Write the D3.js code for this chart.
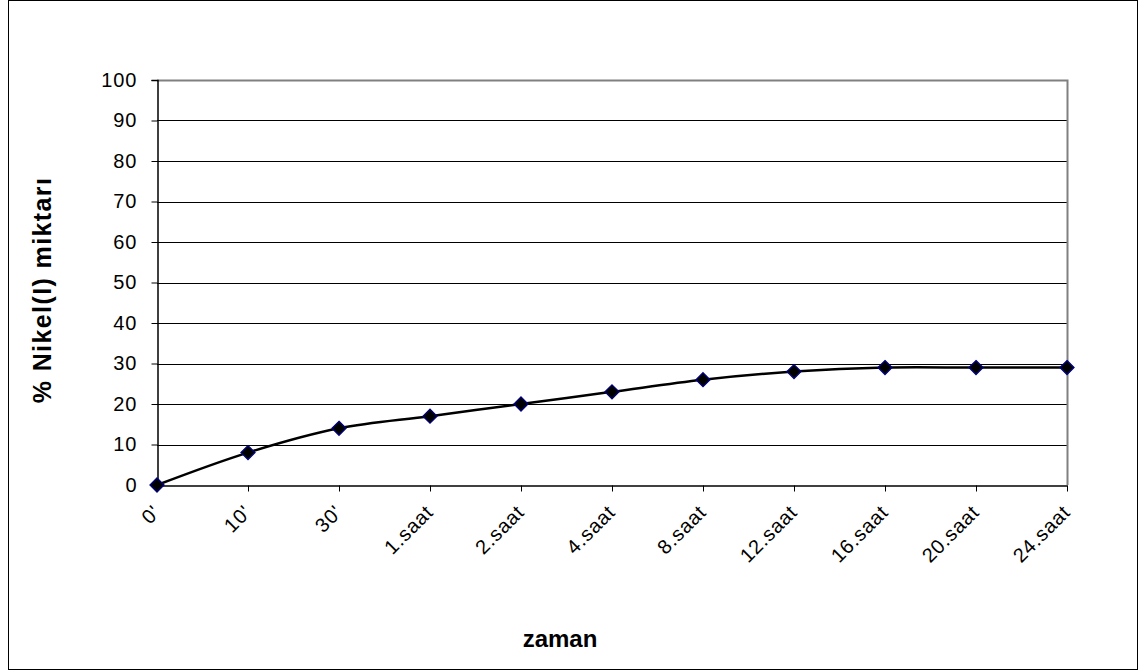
<!DOCTYPE html>
<html><head><meta charset="utf-8">
<script src="https://cdn.jsdelivr.net/npm/d3@7"></script>
<style>body{margin:0;background:#fff}svg{display:block}text{font-family:Arial,"Liberation Sans",sans-serif}</style>
</head><body><svg id="c" width="1144" height="672"></svg>
<script>
const categories = ["0'", "10'", "30'", "1.saat", "2.saat", "4.saat", "8.saat", "12.saat", "16.saat", "20.saat", "24.saat"];
const values = [0, 8, 14, 17, 20, 23, 26, 28, 29, 29, 29];
const yTicks = [0, 10, 20, 30, 40, 50, 60, 70, 80, 90, 100];
const yTitle = "% Nikel(I) miktarı";
const xTitle = "zaman";

const FF = "Arial, 'Liberation Sans', sans-serif";
const svg = d3.select("#c");
svg.append("rect").attr("x", 8.5).attr("y", 0.5).attr("width", 1129).attr("height", 669)
  .attr("fill", "#fff").attr("stroke", "#000").attr("stroke-width", 1);

const L = 157, R = 1067, T = 80, B = 485;
const x = d3.scalePoint().domain(categories).range([L, R]);
const y = d3.scaleLinear().domain([0, 100]).range([B, T]);

// gridlines
svg.append("g").selectAll("line").data(yTicks.filter(d => d > 0 && d < 100)).join("line")
  .attr("x1", L).attr("x2", R).attr("y1", d => Math.round(y(d)) + 0.5).attr("y2", d => Math.round(y(d)) + 0.5)
  .attr("stroke", "#000").attr("stroke-width", 1);
// plot border (gray) top/right
svg.append("path").attr("d", `M${L},${T + 0.5}H${R + 0.5}V${B}`).attr("fill", "none")
  .attr("stroke", "#808080").attr("stroke-width", 2);

// y axis
const ya = svg.append("g").attr("transform", `translate(${L + 0.5},0)`)
  .call(d3.axisLeft(y).tickValues(yTicks).tickSize(6).tickPadding(14).tickFormat(d3.format("d")));
ya.select(".domain").attr("stroke", "#000").attr("stroke-width", 1.5);
ya.selectAll(".tick line").attr("stroke", "#000");
ya.selectAll("text").attr("font-size", 20).attr("letter-spacing", 1).attr("fill", "#000").attr("font-family", FF);

// x axis
const xa = svg.append("g").attr("transform", `translate(0,${B + 0.5})`)
  .call(d3.axisBottom(x).tickSize(6).tickSizeOuter(0));
xa.select(".domain").attr("stroke", "#000").attr("stroke-width", 1.5);
xa.selectAll(".tick line").attr("stroke", "#000");
xa.selectAll("text").attr("font-size", 20).attr("letter-spacing", 0.8).attr("fill", "#000").attr("font-family", FF)
  .attr("text-anchor", "end").attr("dy", null).attr("y", 0)
  .attr("transform", "translate(4,28) rotate(-45)");

// line
const line = d3.line().x((d, i) => x(categories[i])).y(d => y(d)).curve(d3.curveCatmullRom.alpha(0.5));
svg.append("path").datum(values).attr("d", line).attr("fill", "none").attr("stroke", "#000").attr("stroke-width", 2.5);

// markers
svg.append("g").selectAll("path").data(values).join("path")
  .attr("transform", (d, i) => `translate(${x(categories[i])},${y(d)})`)
  .attr("d", "M0,-7L7,0L0,7L-7,0Z").attr("fill", "#000").attr("stroke", "#000080").attr("stroke-width", 1.3);

// titles
svg.append("text").attr("transform", "translate(51,290) rotate(-90)").attr("text-anchor", "middle")
  .attr("font-size", 25).attr("letter-spacing", 1.4).attr("font-weight", "bold").text(yTitle);
svg.append("text").attr("x", 560).attr("y", 647).attr("text-anchor", "middle")
  .attr("font-size", 24).attr("font-weight", "bold").text(xTitle);
</script></body></html>
